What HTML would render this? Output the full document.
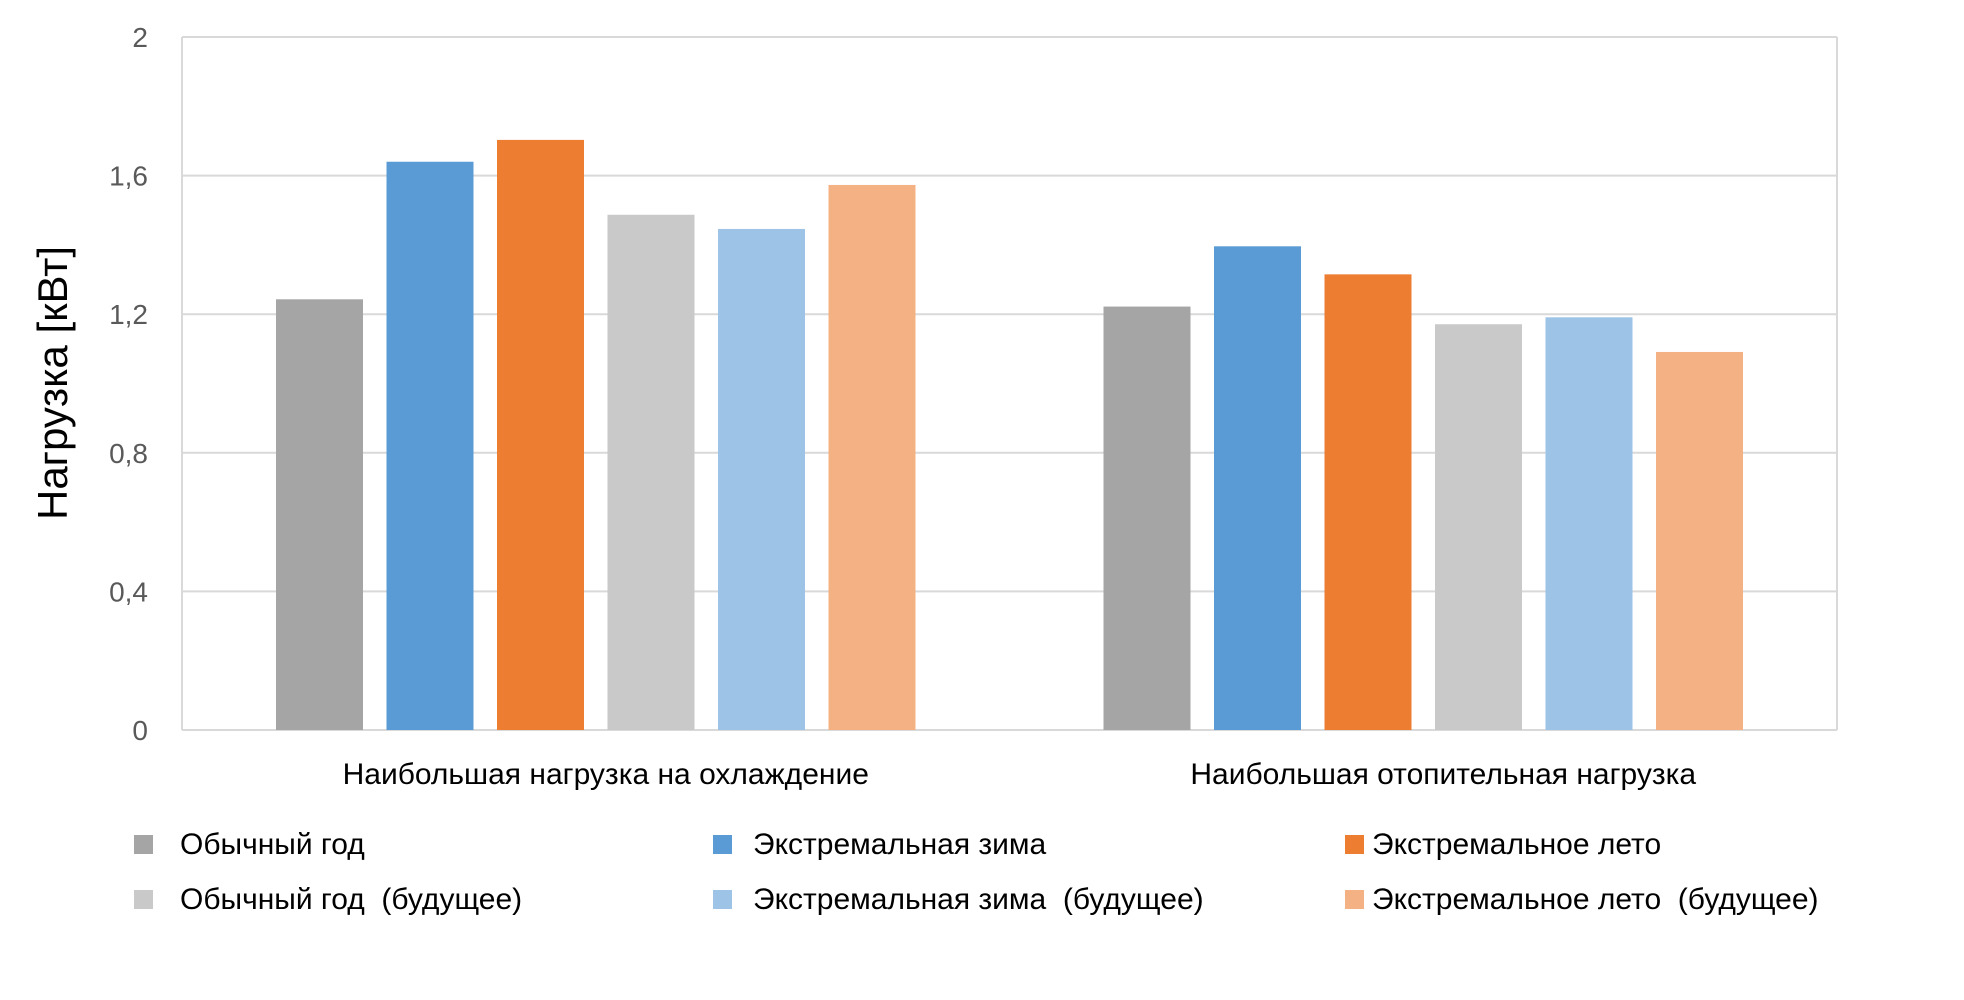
<!DOCTYPE html>
<html><head><meta charset="utf-8"><style>
body{margin:0;background:#fff;}
svg{display:block;font-family:"Liberation Sans","DejaVu Sans",sans-serif;}
</style></head><body>
<svg id="chart" width="1964" height="1000" viewBox="0 0 1964 1000">
<g id="grid"></g>
<g id="bars"></g>
<g id="yticks"></g>
<g id="xcats"></g>
<text transform="translate(67,383) rotate(-90)" text-anchor="middle" font-size="42" fill="#000">Нагрузка [кВт]</text>
<g id="legend"></g>
</svg>
<script>
const categories = ["Наибольшая нагрузка на охлаждение","Наибольшая отопительная нагрузка"];
const seriesNames = ["Обычный год","Экстремальная зима","Экстремальное лето","Обычный год  (будущее)","Экстремальная зима  (будущее)","Экстремальное лето  (будущее)"];
const obychnyi = [1.243, 1.222];
const zima = [1.64, 1.396];
const leto = [1.703, 1.315];
const obychnyiFut = [1.487, 1.171];
const zimaFut = [1.446, 1.191];
const letoFut = [1.573, 1.091];
const tickValues = [0, 0.4, 0.8, 1.2, 1.6, 2];
const tickLabels = ["0","0,4","0,8","1,2","1,6","2"];

const series = [obychnyi, zima, leto, obychnyiFut, zimaFut, letoFut];
const colors = ["#A5A5A5","#5B9BD5","#ED7D31","#C9C9C9","#9DC3E6","#F4B183"];
const NS = "http://www.w3.org/2000/svg";
const L = 182, R = 1837, T = 37, B = 730, yMax = 2;
const y = v => B - (v / yMax) * (B - T);
const catW = (R - L) / categories.length;
const step = 110.5, bw = 87;
const x = (ci, si) => L + catW * ci + catW / 2 - 3 * step + si * step + (step - bw) / 2;
function mk(tag, attrs, parent) { const e = document.createElementNS(NS, tag); for (const k in attrs) e.setAttribute(k, attrs[k]); parent.appendChild(e); return e; }

const grid = document.getElementById('grid');
tickValues.forEach((v, i) => {
  const ln = mk('line', {x1: L, x2: R, y1: y(v), y2: y(v), stroke: '#d9d9d9', 'stroke-width': 2}, grid);
  
  
  const t = mk('text', {x: 148, y: y(v) + 10, 'text-anchor': 'end', 'font-size': 28, fill: '#595959'}, document.getElementById('yticks'));
  t.textContent = tickLabels[i];
  
  
});
const lb = mk('line', {x1: L, x2: L, y1: T, y2: B, stroke: '#d9d9d9', 'stroke-width': 2}, grid);


const rb = mk('line', {x1: R, x2: R, y1: T, y2: B, stroke: '#d9d9d9', 'stroke-width': 2}, grid);



const bars = document.getElementById('bars');
series.forEach((s, si) => {
  s.forEach((v, ci) => {
    const r = mk('rect', {x: x(ci, si), y: y(v), width: bw, height: B - y(v), fill: colors[si]}, bars);
    
    
  });
});

const xc = document.getElementById('xcats');
categories.forEach((c, ci) => {
  const t = mk('text', {x: L + catW * ci + catW / 2 + (ci ? 20 : 10), y: 784, 'text-anchor': 'middle', 'font-size': 30, fill: '#000'}, xc);
  t.textContent = c;
  
  
});

const legend = document.getElementById('legend');
const lx = [134, 713, 1345], tx = [180, 753, 1372], ly = [854, 909];
seriesNames.forEach((n, i) => {
  const col = i % 3, row = Math.floor(i / 3);
  const g = mk('g', {}, legend);
  
  
  mk('rect', {x: lx[col], y: ly[row] - 19, width: 19, height: 19, fill: colors[i]}, g);
  const t = mk('text', {x: tx[col], y: ly[row], 'font-size': 30, fill: '#000'}, g);
  t.textContent = n;
  t.setAttribute('style', 'white-space:pre');
});
</script>
</body></html>
